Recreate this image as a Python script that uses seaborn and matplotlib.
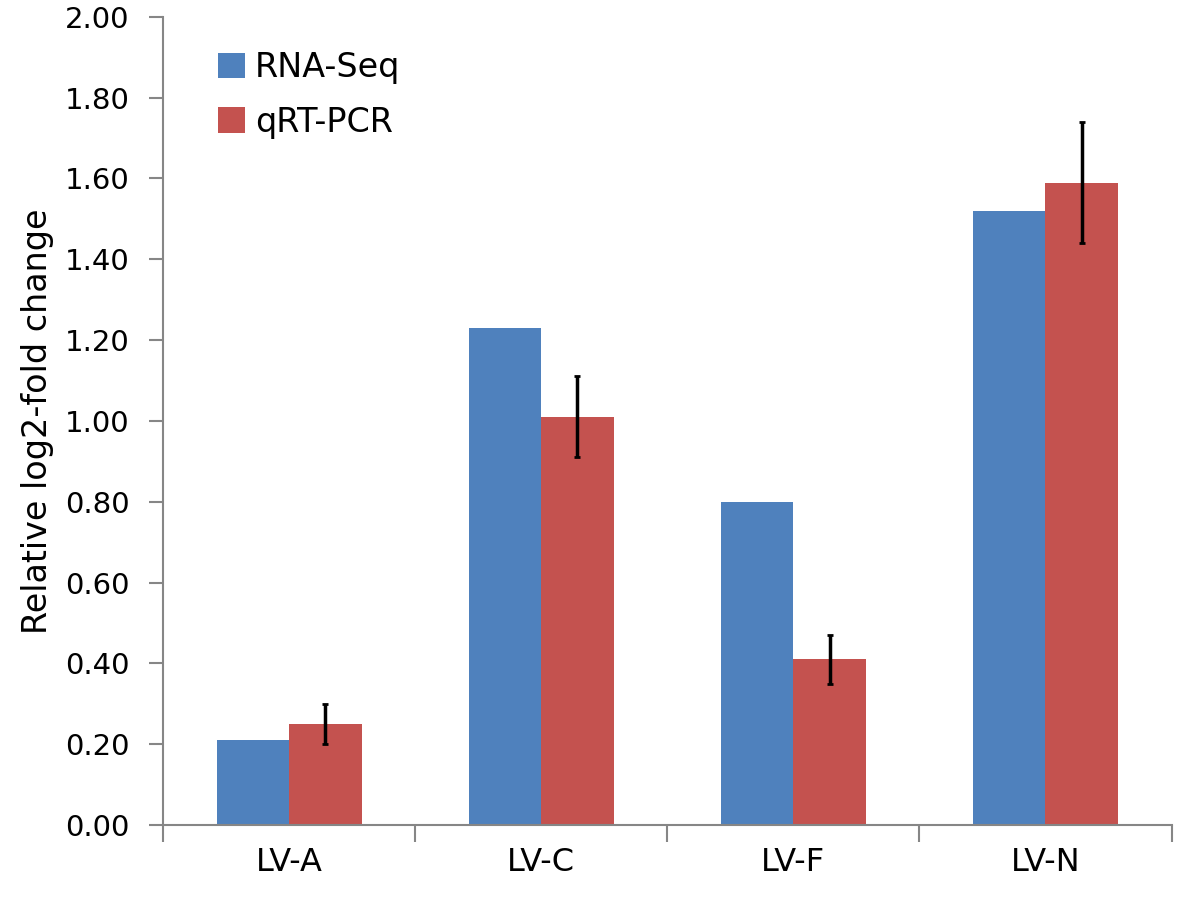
import numpy as np
import pandas as pd
import matplotlib
matplotlib.use("Agg")
import matplotlib.pyplot as plt
import seaborn as sns

genes = ["LV-A", "LV-C", "LV-F", "LV-N"]
rna_seq = [0.21, 1.23, 0.80, 1.52]
qrt_pcr = [0.25, 1.01, 0.41, 1.59]
qrt_err = [0.05, 0.10, 0.06, 0.15]
methods = ["RNA-Seq", "qRT-PCR"]
colors = ["#4F81BD", "#C4524F"]
y_ticks = [0.0, 0.2, 0.4, 0.6, 0.8, 1.0, 1.2, 1.4, 1.6, 1.8, 2.0]

df = pd.DataFrame({
    "gene": genes * 2,
    "method": [methods[0]] * len(genes) + [methods[1]] * len(genes),
    "value": rna_seq + qrt_pcr,
})

sns.set_style("white")
plt.rcParams["font.family"] = ["DejaVu Sans"]
plt.rcParams["text.color"] = "black"
plt.rcParams["xtick.color"] = "black"
plt.rcParams["ytick.color"] = "black"
plt.rcParams["axes.labelcolor"] = "black"

fig = plt.figure(figsize=(11.81, 9.05), dpi=100)
ax = fig.add_axes([0.138, 0.0884, 0.854, 0.893])

sns.barplot(data=df, x="gene", y="value", hue="method", hue_order=methods,
            palette=colors, width=0.575, saturation=1, errorbar=None,
            linewidth=0, ax=ax)

# error bars on the qRT-PCR bars
bars = ax.containers[1]
xs = [p.get_x() + p.get_width() / 2 for p in bars]
ax.errorbar(xs, qrt_pcr, yerr=qrt_err, fmt="none", ecolor="black",
            elinewidth=2.5, capsize=2, capthick=2)

ax.set_xlim(-0.5, len(genes) - 0.5)
ax.set_ylim(0, 2.0)
ax.set_yticks(y_ticks)
ax.set_yticklabels([f"{t:.2f}" for t in y_ticks], fontsize=21)
ax.set_xticks(range(len(genes)))
ax.set_xticklabels(genes, fontsize=23)
ax.set_xticks(np.arange(-0.5, len(genes), 1.0), minor=True)
ax.tick_params(axis="x", which="major", length=0, pad=16)
ax.tick_params(axis="x", which="minor", bottom=True, length=12, width=1.5,
               color="#868686", direction="out")
ax.tick_params(axis="y", length=10, width=1.5, color="#868686", labelcolor="black",
               direction="out", left=True, pad=14)
ax.set_xlabel("")
ax.set_ylabel("Relative log2-fold change", fontsize=24, labelpad=8)

for s in ["top", "right"]:
    ax.spines[s].set_visible(False)
for s in ["left", "bottom"]:
    ax.spines[s].set_color("#868686")
    ax.spines[s].set_linewidth(1.5)

ax.legend(loc="upper left", bbox_to_anchor=(0.025, 0.995), frameon=False,
          fontsize=24, handlelength=0.8, handleheight=0.8, handletextpad=0.3,
          labelspacing=0.65)

fig.savefig("out.png", dpi=100)
